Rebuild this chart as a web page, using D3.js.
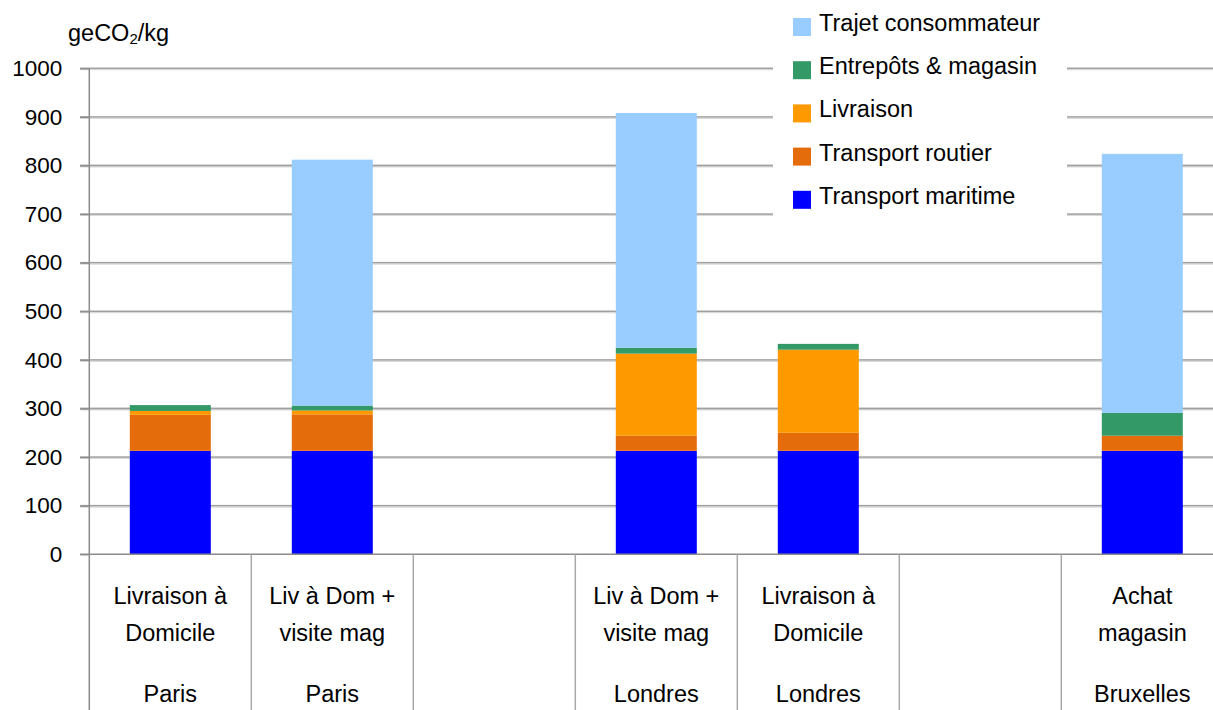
<!DOCTYPE html>
<html><head><meta charset="utf-8">
<script src="https://cdn.jsdelivr.net/npm/d3@7"></script>
<style>body{margin:0;background:#fff;} svg{display:block;font-family:"Liberation Sans",Arial,sans-serif;}</style>
</head><body>
<svg id="c" width="1213" height="710"></svg>
<script>
const categories = [["Livraison à","Domicile"],["Liv à Dom +","visite mag"],["",""],["Liv à Dom +","visite mag"],["Livraison à","Domicile"],["",""],["Achat","magasin"]];
const cities = ["Paris","Paris","","Londres","Londres","","Bruxelles"];
const seriesNames = ["Transport maritime","Transport routier","Livraison","Entrepôts & magasin","Trajet consommateur"];
const seriesColors = ["#0000ff","#e46c0a","#ff9900","#339966","#99ccff"];
const maritime  = [213,213,0,213,213,0,213];
const routier   = [74,75,0,31,37,0,31];
const livraison = [8,8,0,169,171,0,0];
const entrepots = [12,10,0,12,12,0,47];
const trajet    = [0,506,0,483,0,0,533];
const yTicks = [0,100,200,300,400,500,600,700,800,900,1000];

const svg = d3.select("#c");
const idx = d3.range(categories.length);
const x = d3.scaleBand().domain(idx).range([89.3, 89.3+162*7]).paddingInner(0.5).paddingOuter(0.25);
const y = d3.scaleLinear().domain([0,1000]).range([554.3,68.3]);
const step = x.step();
const x0 = 89.3;

// gridlines
svg.append("g").selectAll("line").data(yTicks.filter(d=>d>0)).join("line")
  .attr("x1",80).attr("x2",1213).attr("y1",d=>y(d)+0.5).attr("y2",d=>y(d)+0.5)
  .attr("stroke","#dadada").attr("stroke-width",3);
svg.append("g").selectAll("line").data(yTicks.filter(d=>d>0)).join("line")
  .attr("x1",80).attr("x2",1213).attr("y1",d=>y(d)).attr("y2",d=>y(d))
  .attr("stroke","#a0a0a0").attr("stroke-width",1.3);

// stacked bars
const rows = idx.map(i=>({i, m:maritime[i], r:routier[i], l:livraison[i], e:entrepots[i], t:trajet[i]}));
const stack = d3.stack().keys(["m","r","l","e","t"])(rows);
svg.append("g").selectAll("g").data(stack).join("g").attr("fill",(d,k)=>seriesColors[k])
  .selectAll("rect").data(d=>d.filter(p=>p[1]-p[0]>0)).join("rect")
  .attr("x",p=>x(p.data.i)).attr("width",x.bandwidth())
  .attr("y",p=>y(p[1])).attr("height",p=>y(p[0])-y(p[1]));

// x axis baseline
svg.append("line").attr("x1",80).attr("x2",1213).attr("y1",y(0)).attr("y2",y(0)).attr("stroke","#8c8c8c").attr("stroke-width",1.5);
// y axis line
svg.append("line").attr("x1",x0).attr("x2",x0).attr("y1",y(1000)).attr("y2",710).attr("stroke","#8c8c8c").attr("stroke-width",1.5);
// category separators
svg.append("g").selectAll("line").data(d3.range(1,8)).join("line")
  .attr("x1",d=>x0+d*step).attr("x2",d=>x0+d*step).attr("y1",y(0)).attr("y2",710)
  .attr("stroke","#a8a8a8").attr("stroke-width",1.5);

// y ticks & labels
const ya = d3.axisLeft(y).tickValues(yTicks).tickFormat(d3.format("d")).tickSize(9).tickPadding(18);
const g = svg.append("g").attr("transform",`translate(${x0},0)`).call(ya);
g.select(".domain").remove();
g.selectAll(".tick line").attr("stroke","#8c8c8c").attr("stroke-width",1.3);
g.selectAll(".tick text").attr("font-size",22.5).attr("fill","#000").attr("font-family","Liberation Sans, Arial, sans-serif");

// category labels
const cl = svg.append("g").attr("font-size",23.5).attr("text-anchor","middle").attr("fill","#000");
idx.forEach(i=>{
  const cx = x(i)+x.bandwidth()/2;
  cl.append("text").attr("x",cx).attr("y",604).text(categories[i][0]);
  cl.append("text").attr("x",cx).attr("y",641).text(categories[i][1]);
  cl.append("text").attr("x",cx).attr("y",702).text(cities[i]);
});

// y label
const yl = svg.append("text").attr("x",68).attr("y",40.5).attr("font-size",23.5).attr("fill","#000");
yl.append("tspan").text("geCO");
yl.append("tspan").attr("font-size",15).attr("dy",3).text("2");
yl.append("tspan").attr("dy",-3).text("/kg");

// legend
svg.append("rect").attr("x",773).attr("y",0).attr("width",294).attr("height",222).attr("fill","#fff");
const lg = svg.append("g");
const order = [4,3,2,1,0];
order.forEach((k,j)=>{
  const ty = 18 + j*43.2;
  lg.append("rect").attr("x",793).attr("y",ty).attr("width",18).attr("height",18).attr("fill",seriesColors[k]);
  lg.append("text").attr("x",819).attr("y",ty+13).attr("font-size",23.5).attr("fill","#000").text(seriesNames[k]);
});
</script>
</body></html>
